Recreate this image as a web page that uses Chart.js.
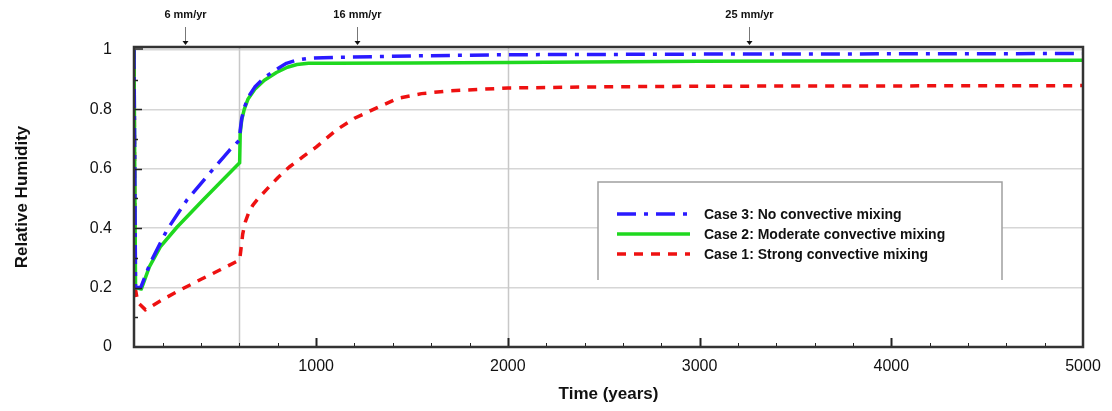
<!DOCTYPE html>
<html>
<head>
<meta charset="utf-8">
<title>Relative Humidity vs Time</title>
<script src="https://cdn.jsdelivr.net/npm/chart.js@4.4.1/dist/chart.umd.min.js"></script>
<style>
    html, body { margin: 0; padding: 0; background: #fff; }
    #wrap { width: 1112px; height: 411px; position: relative; }
</style>
</head>
<body>
<div id="wrap"><canvas id="rhChart"></canvas></div>
<script>
// Case 3: no convective mixing
const timeCase3 = [50, 58, 85, 135, 222, 326, 446, 549, 601, 604, 612, 625, 645, 680, 730, 793, 845, 900, 960, 1100, 1500, 2000, 3000, 4000, 5000];
const rhCase3   = [1.0, 0.2, 0.2, 0.283, 0.394, 0.495, 0.586, 0.663, 0.697, 0.73, 0.77, 0.805, 0.84, 0.875, 0.907, 0.935, 0.955, 0.966, 0.972, 0.975, 0.98, 0.984, 0.986, 0.987, 0.988];

// Case 2: moderate convective mixing
const timeCase2 = [50, 58, 88, 130, 187, 275, 410, 497, 601, 604, 612, 625, 645, 680, 730, 793, 850, 900, 960, 1100, 1500, 2000, 3000, 4000, 5000];
const rhCase2   = [1.0, 0.2, 0.195, 0.27, 0.337, 0.404, 0.495, 0.552, 0.62, 0.72, 0.765, 0.8, 0.835, 0.868, 0.898, 0.924, 0.942, 0.951, 0.955, 0.955, 0.956, 0.958, 0.962, 0.964, 0.965];

// Case 1: strong convective mixing
const timeCase1 = [50, 56, 70, 110, 200, 300, 400, 500, 601, 608, 617, 630, 650, 670, 694, 741, 800, 860, 930, 1000, 1104, 1200, 1326, 1430, 1550, 1689, 2000, 2500, 3000, 4000, 5000];
const rhCase1   = [1.0, 0.2, 0.15, 0.125, 0.16, 0.195, 0.228, 0.26, 0.293, 0.33, 0.38, 0.42, 0.455, 0.478, 0.497, 0.53, 0.57, 0.606, 0.64, 0.673, 0.73, 0.77, 0.808, 0.838, 0.853, 0.862, 0.872, 0.876, 0.878, 0.879, 0.88];

const xTickValues = [1000, 2000, 3000, 4000, 5000];
const yTickValues = [0, 0.2, 0.4, 0.6, 0.8, 1];
const xGridValues = [600, 2000];

// infiltration rate markers above the plot
const rateLabels = ['6 mm/yr', '16 mm/yr', '25 mm/yr'];
const rateYears  = [315, 1215, 3260];

function toPoints(xs, ys) {
    return xs.map((x, i) => ({ x: x, y: ys[i] }));
}

const FONT = "'Liberation Sans', Arial, Helvetica, sans-serif";

const decorPlugin = {
    id: 'decor',
    beforeDatasetsDraw(chart) {
        const { ctx, chartArea: a, scales: { x } } = chart;
        ctx.save();
        ctx.strokeStyle = '#c8c8c8';
        ctx.lineWidth = 1.5;
        xGridValues.forEach(v => {
            const px = Math.round(x.getPixelForValue(v)) + 0.5;
            ctx.beginPath();
            ctx.moveTo(px, a.top);
            ctx.lineTo(px, a.bottom);
            ctx.stroke();
        });
        ctx.restore();
    },
    afterDatasetsDraw(chart) {
        const { ctx, chartArea: a, scales: { x, y } } = chart;
        ctx.save();

        // inward tick marks
        ctx.strokeStyle = '#222';
        ctx.lineWidth = 1.5;
        for (let k = 1; k < 10; k++) {
            const py = Math.round(y.getPixelForValue(k / 10)) + 0.5;
            const major = k % 2 === 0;
            ctx.beginPath();
            ctx.moveTo(a.left, py);
            ctx.lineTo(a.left + (major ? 8 : 4), py);
            ctx.stroke();
        }
        ctx.beginPath();
        ctx.moveTo(a.left, a.top + 2);
        ctx.lineTo(a.left + 9, a.top + 2);
        ctx.stroke();
        for (let v = 200; v < 5000; v += 200) {
            const px = Math.round(x.getPixelForValue(v)) + 0.5;
            const major = v % 1000 === 0;
            ctx.lineWidth = major ? 2 : 1;
            ctx.beginPath();
            ctx.moveTo(px, a.bottom);
            ctx.lineTo(px, a.bottom - (major ? 9 : 4));
            ctx.stroke();
        }

        // frame
        ctx.strokeStyle = '#333';
        ctx.lineWidth = 2.5;
        ctx.strokeRect(a.left, a.top, a.right - a.left, a.bottom - a.top);

        // legend box (open at the bottom)
        const bx = 598, by = 182, bw = 404, bh = 98;
        ctx.fillStyle = '#fff';
        ctx.fillRect(bx, by, bw, bh);
        ctx.strokeStyle = '#a0a0a0';
        ctx.lineWidth = 1.5;
        ctx.beginPath();
        ctx.moveTo(bx, by + bh);
        ctx.lineTo(bx, by);
        ctx.lineTo(bx + bw, by);
        ctx.lineTo(bx + bw, by + bh);
        ctx.stroke();

        ctx.font = 'bold 14px ' + FONT;
        ctx.textBaseline = 'middle';
        ctx.textAlign = 'left';
        chart.data.datasets.forEach((ds, i) => {
            const ly = 214 + i * 20;
            ctx.strokeStyle = ds.borderColor;
            ctx.lineWidth = ds.borderWidth;
            ctx.setLineDash(ds.borderDash || []);
            ctx.beginPath();
            ctx.moveTo(617, ly);
            ctx.lineTo(690, ly);
            ctx.stroke();
            ctx.setLineDash([]);
            ctx.fillStyle = '#111';
            ctx.fillText(ds.label, 704, ly + 1);
        });

        // rate markers
        ctx.font = 'bold 11px ' + FONT;
        ctx.textAlign = 'center';
        rateYears.forEach((t, i) => {
            const px = Math.round(x.getPixelForValue(t)) + 0.5;
            ctx.fillStyle = '#111';
            ctx.fillText(rateLabels[i], px, 15);
            ctx.strokeStyle = '#777';
            ctx.lineWidth = 1;
            ctx.beginPath();
            ctx.moveTo(px, 27);
            ctx.lineTo(px, 42);
            ctx.stroke();
            ctx.fillStyle = '#111';
            ctx.beginPath();
            ctx.moveTo(px - 3, 41);
            ctx.lineTo(px + 3, 41);
            ctx.lineTo(px, 45);
            ctx.closePath();
            ctx.fill();
        });

        ctx.restore();
    }
};

new Chart(document.getElementById('rhChart'), {
    type: 'line',
    data: {
        datasets: [
            {
                label: 'Case 3: No convective mixing',
                data: toPoints(timeCase3, rhCase3),
                borderColor: '#2a1aff',
                borderWidth: 3.5,
                borderDash: [19, 8, 4, 8]
            },
            {
                label: 'Case 2: Moderate convective mixing',
                data: toPoints(timeCase2, rhCase2),
                borderColor: '#1fd81f',
                borderWidth: 3.5
            },
            {
                label: 'Case 1: Strong convective mixing',
                data: toPoints(timeCase1, rhCase1),
                borderColor: '#ee1111',
                borderWidth: 3.5,
                borderDash: [9, 8]
            }
        ]
    },
    options: {
        responsive: true,
        maintainAspectRatio: false,
        animation: false,
        devicePixelRatio: 1,
        layout: { padding: { top: 47, right: 29, left: 0, bottom: 0 } },
        elements: {
            point: { radius: 0 },
            line: { tension: 0, fill: false, borderJoinStyle: 'round' }
        },
        plugins: {
            legend: { display: false },
            tooltip: { enabled: false }
        },
        scales: {
            x: {
                type: 'linear',
                min: 50,
                max: 5000,
                afterBuildTicks: s => { s.ticks = xTickValues.map(v => ({ value: v })); },
                afterFit: s => { s.height = 64; },
                grid: { display: false, drawTicks: false },
                border: { display: false },
                ticks: {
                    padding: 10,
                    color: '#111',
                    font: { family: FONT, size: 16 },
                    callback: v => String(v),
                    maxRotation: 0
                },
                title: {
                    display: true,
                    text: 'Time (years)',
                    color: '#111',
                    font: { family: FONT, size: 17, weight: 'bold' },
                    padding: { top: 2, bottom: 6 }
                }
            },
            y: {
                min: 0,
                max: 1.01,
                afterBuildTicks: s => { s.ticks = yTickValues.map(v => ({ value: v })); },
                afterFit: s => { s.width = 134; },
                grid: { color: '#d6d6d6', lineWidth: 1.5, drawTicks: false },
                border: { display: false },
                ticks: {
                    padding: 22,
                    color: '#111',
                    font: { family: FONT, size: 16 },
                    callback: v => String(Math.round(v * 10) / 10)
                },
                title: {
                    display: true,
                    text: 'Relative Humidity',
                    color: '#111',
                    font: { family: FONT, size: 17, weight: 'bold' },
                    padding: { top: 12, bottom: 0 }
                }
            }
        }
    },
    plugins: [decorPlugin]
});
</script>
</body>
</html>
